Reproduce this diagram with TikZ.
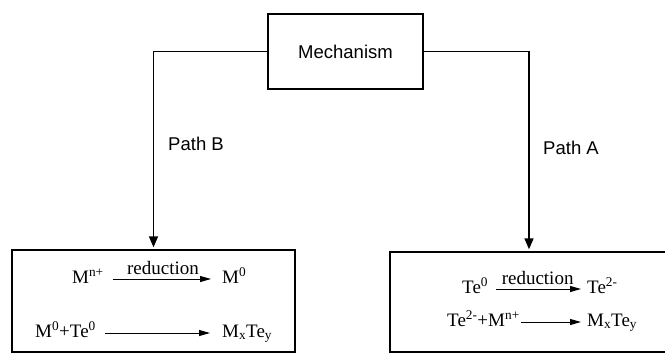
\documentclass[tikz,border=0pt]{standalone}
\usepackage{fontspec}
\setmainfont{Liberation Serif}
\setsansfont{Liberation Sans}
\usetikzlibrary{arrows.meta}
\begin{document}
\begin{tikzpicture}[x=1pt,y=-1pt,
  boxstyle/.style={draw, line width=2.8pt, inner sep=0pt},
  conn/.style={line width=1.5pt, shorten >=1.3pt, -{Triangle[length=11pt,width=9pt]}},
  react/.style={line width=1pt, -{Triangle[length=11pt,width=6pt]}},
  chem/.style={inner sep=0pt, text height=12pt, text depth=4pt, anchor=west, font=\fontsize{19}{22}\selectfont},
  rlab/.style={inner sep=0pt, above=4pt, font=\fontsize{19}{22}\selectfont},
  lab/.style={font=\sffamily\fontsize{18.5}{22}\selectfont, inner sep=0pt}]
\useasboundingbox (0,0) rectangle (665,354);

\node[boxstyle, minimum width=155pt, minimum height=75pt, font=\sffamily\fontsize{18.5}{22}\selectfont] (mech) at (345.5,51.5) {Mechanism};
\node[boxstyle, minimum width=283pt, minimum height=102pt] (boxB) at (153.5,301) {};
\node[boxstyle, minimum width=278pt, minimum height=100pt] (boxA) at (529,302) {};

\draw[conn] (mech.west) -| (boxB.north);
\draw[conn] (mech.east) -| (boxA.north);

\node[lab] (pb) at (196,144) {Path B};
\node[lab] (pa) at (571,148) {Path A};

% Path B box
\node[chem] (b1l) at (72,279) {M\textsuperscript{n+}};
\node[chem] (b1r) at (222,279) {M\textsuperscript{0}};
\draw[react, shorten <=9pt, shorten >=11pt] (b1l.east) -- node[rlab] {reduction} (b1r.west);
\node[chem] (b2l) at (35,333) {M\textsuperscript{0}+Te\textsuperscript{0}};
\node[chem] (b2r) at (222,333) {M\textsubscript{x}Te\textsubscript{y}};
\draw[react, shorten <=9pt, shorten >=12pt] (b2l.east) -- (b2r.west);

% Path A box
\node[chem] (a1l) at (462,289) {Te\textsuperscript{0}};
\node[chem] (a1r) at (587,289) {Te\textsuperscript{2-}};
\draw[react, shorten <=8pt, shorten >=6pt] (a1l.east) -- node[rlab] {reduction} (a1r.west);
\node[chem] (a2l) at (447,322) {Te\textsuperscript{2-}+M\textsuperscript{n+}};
\node[chem] (a2r) at (587,322) {M\textsubscript{x}Te\textsubscript{y}};
\draw[react, shorten <=1pt, shorten >=6pt] (a2l.east) -- (a2r.west);
\end{tikzpicture}
\end{document}
